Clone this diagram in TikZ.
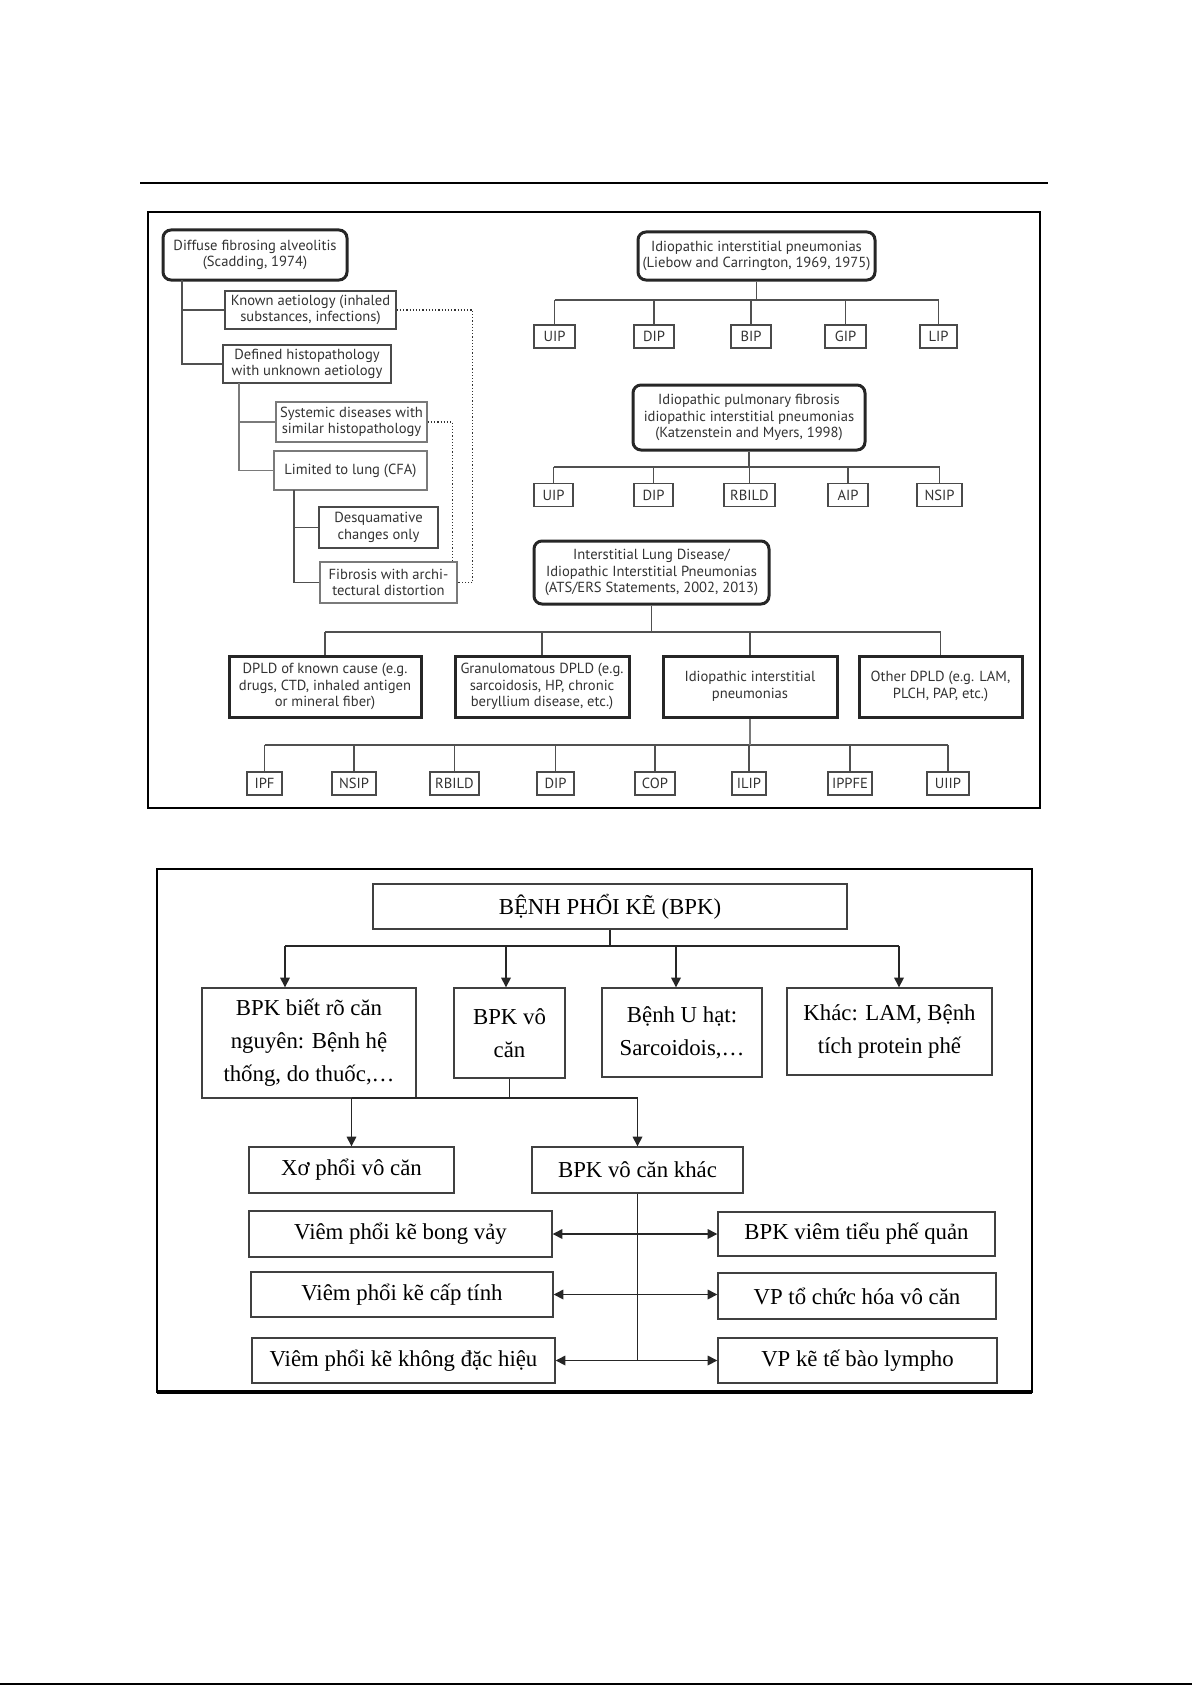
\documentclass[tikz,border=0pt]{standalone}
\usepackage{fontspec}
\setmainfont{Liberation Serif}
\newfontfamily\figfont{PT Sans}
\usetikzlibrary{arrows.meta}
\definecolor{inkgray}{HTML}{333333}
\definecolor{linegray}{HTML}{505050}
\definecolor{boxgray}{HTML}{4A4A4A}
\definecolor{softgray}{HTML}{7A7A7A}

\tikzset{
  figtext/.style={font=\figfont\fontsize{7.3}{8.3}\selectfont, text=inkgray, align=center, inner sep=1pt},
  roundbox/.style={figtext, draw=black!85, line width=1.5pt, rounded corners=4pt},
  catbox/.style={figtext, draw=black!85, line width=1.5pt},
  subbox/.style={figtext, draw=boxgray, line width=0.7pt},
  paleboxx/.style={figtext, draw=softgray, line width=0.7pt},
  leafbox/.style={figtext, draw=boxgray, line width=0.7pt},
  tree/.style={linegray, line width=0.8pt},
  paletree/.style={softgray, line width=0.8pt},
  dotline/.style={black!80, line width=0.6pt, densely dotted},
  vnbox/.style={draw=black!75, line width=0.7pt, align=center, font=\fontsize{11.4}{16.5}\selectfont, inner sep=1pt},
  vnline/.style={black!85, line width=0.7pt},
  vnarrow/.style={vnline, -{Triangle[length=4.8pt,width=4.8pt]}},
  vndouble/.style={vnline, {Triangle[length=4.8pt,width=4.8pt]}-{Triangle[length=4.8pt,width=4.8pt]}},
}

\begin{document}
\begin{tikzpicture}[x=0.5pt, y=-0.5pt]
  \useasboundingbox (0,0) rectangle (1192,1685);
  \fill[white] (0,0) rectangle (1192,1685);

  % page rules
  \draw[black, line width=1pt] (140,183) -- (1048,183);
  \draw[black, line width=1pt] (0,1684) -- (1192,1684);

  % === TOP FIGURE ===
  \draw[black, line width=1pt] (148,212) rectangle (1040,808);

  % Scadding tree
  \node[roundbox, minimum width=92pt, minimum height=25pt] (diffuse) at (255,255)
    {Diffuse fibrosing alveolitis\\(Scadding, 1974)};
  \node[subbox, minimum width=85.5pt, minimum height=19pt] (known) at (310.5,310)
    {Known aetiology (inhaled\\substances, infections)};
  \node[subbox, minimum width=84pt, minimum height=19pt] (defined) at (307,364)
    {Defined histopathology\\with unknown aetiology};
  \node[paleboxx, minimum width=75.5pt, minimum height=20pt] (systemic) at (351.5,422)
    {Systemic diseases with\\similar histopathology};
  \node[paleboxx, minimum width=76.5pt, minimum height=19.5pt] (limited) at (350.5,470.5)
    {Limited to lung (CFA)};
  \node[subbox, minimum width=59.5pt, minimum height=20.5pt] (desq) at (378.5,527.5)
    {Desquamative\\changes only};
  \node[paleboxx, minimum width=68.5pt, minimum height=20.5pt] (fibrosis) at (388.5,582.5)
    {Fibrosis with archi-\\tectural distortion};

  \coordinate (trunkA) at (182,280);
  \coordinate (trunkB) at (239,383);
  \coordinate (trunkC) at (294,490);
  \draw[tree] (trunkA) |- (known.west);
  \draw[tree] (trunkA) |- (defined.west);
  \draw[paletree] (trunkB) |- (systemic.west);
  \draw[paletree] (trunkB) |- (limited.west);
  \draw[tree] (trunkC) |- (desq.west);
  \draw[tree] (trunkC) |- (fibrosis.west);
  \draw[dotline] (known.east) -- ++(76,0) |- (fibrosis.east);
  \draw[dotline] (systemic.east) -| ([xshift=-2.5pt]fibrosis.north east);

  % Liebow and Carrington
  \node[roundbox, minimum width=118.5pt, minimum height=24pt] (liebow) at (756.5,256)
    {Idiopathic interstitial pneumonias\\(Liebow and Carrington, 1969, 1975)};
  \coordinate (busA) at (0,300);
  \foreach \nm/\cx/\bw/\lbl in {uipA/554.5/20.5/UIP, dipA/654/20/DIP, bipA/751/20/BIP,
      gipA/845.5/20.5/GIP, lipA/938.5/18.5/LIP} {
    \node[leafbox, minimum width=\bw pt, minimum height=11.5pt] (\nm) at (\cx,336.5) {\lbl};
    \draw[tree] (\nm.north) -- (\nm.north |- busA);
  }
  \draw[tree] (uipA.north |- busA) -- (lipA.north |- busA);
  \draw[tree] (liebow.south) -- (liebow.south |- busA);

  % Katzenstein and Myers
  \node[roundbox, minimum width=116pt, minimum height=32.5pt] (katz) at (749,417.5)
    {Idiopathic pulmonary fibrosis\\idiopathic interstitial pneumonias\\(Katzenstein and Myers, 1998)};
  \coordinate (busB) at (0,467);
  \foreach \nm/\cx/\bw/\lbl in {uipB/553.5/19.5/UIP, dipB/653.5/19.5/DIP, rbildB/749.5/25.5/RBILD,
      aipB/848/20/AIP, nsipB/939.5/22.5/NSIP} {
    \node[leafbox, minimum width=\bw pt, minimum height=11.5pt] (\nm) at (\cx,495) {\lbl};
    \draw[tree] (\nm.north) -- (\nm.north |- busB);
  }
  \draw[tree] (uipB.north |- busB) -- (nsipB.north |- busB);
  \draw[tree] (katz.south) -- (katz.south |- busB);

  % ATS/ERS statements
  \node[roundbox, minimum width=117.5pt, minimum height=31.5pt] (atsers) at (651.5,572.5)
    {Interstitial Lung Disease/\\Idiopathic Interstitial Pneumonias\\(ATS/ERS Statements, 2002, 2013)};
  \coordinate (busC) at (0,632);
  \node[catbox, minimum width=96pt, minimum height=30.5pt] (cknown) at (325,686.5)
    {DPLD of known cause (e.g.\\drugs, CTD, inhaled antigen\\or mineral fiber)};
  \node[catbox, minimum width=87pt, minimum height=30.5pt] (cgran) at (542,686.5)
    {Granulomatous DPLD (e.g.\\sarcoidosis, HP, chronic\\beryllium disease, etc.)};
  \node[catbox, minimum width=87pt, minimum height=30.5pt] (ciip) at (750,686.5)
    {Idiopathic interstitial\\pneumonias};
  \node[catbox, minimum width=81.5pt, minimum height=30.5pt] (cother) at (940.5,686.5)
    {Other DPLD (e.g. LAM,\\PLCH, PAP, etc.)};
  \draw[tree] (atsers.south) -- (atsers.south |- busC);
  \draw[tree] (cknown.north |- busC) -- (cother.north |- busC);
  \foreach \nm in {cknown, cgran, ciip, cother}
    \draw[tree] (\nm.north) -- (\nm.north |- busC);

  \coordinate (busD) at (0,745);
  \foreach \nm/\cx/\bw/\lbl in {ipfD/264.5/17.5/IPF, nsipD/354/22/NSIP, rbildD/454.5/24.5/RBILD,
      dipD/555.5/18.5/DIP, copD/655/20/COP, ilipD/749/17/ILIP, ippfeD/850/22/IPPFE,
      uiipD/948/21/UIIP} {
    \node[leafbox, minimum width=\bw pt, minimum height=11.5pt] (\nm) at (\cx,783.5) {\lbl};
    \draw[tree] (\nm.north) -- (\nm.north |- busD);
  }
  \draw[tree] (ipfD.north |- busD) -- (uiipD.north |- busD);
  \draw[paletree] (ciip.south) -- (ciip.south |- busD);

  % === BOTTOM FIGURE ===
  \draw[black, line width=0.8pt] (157,869) rectangle (1032,1392);
  \draw[black, line width=1.6pt] (157,1392) -- (1032,1392);

  \node[vnbox, minimum width=237pt, minimum height=22.5pt] (bpk) at (610,906.5)
    {BỆNH PHỔI KẼ (BPK)};
  \node[vnbox, minimum width=107pt, minimum height=55pt] (known2) at (309,1043)
    {BPK biết rõ căn\\nguyên: Bệnh hệ\\thống, do thuốc,…};
  \node[vnbox, minimum width=55.5pt, minimum height=45pt] (idio) at (509.5,1033)
    {BPK vô\\căn};
  \node[vnbox, minimum width=80pt, minimum height=44.5pt] (granu) at (682,1032.5)
    {Bệnh U hạt:\\Sarcoidois,…};
  \node[vnbox, minimum width=102.5pt, minimum height=43.5pt] (other2) at (889.5,1031.5)
    {Khác: LAM, Bệnh\\tích protein phế};

  \coordinate (busT) at (0,946);
  \coordinate (t1) at (285,946);
  \coordinate (t2) at (506,946);
  \coordinate (t3) at (676,946);
  \coordinate (t4) at (899,946);
  \draw[vnline] (bpk.south) -- (bpk.south |- busT);
  \draw[vnline] (t1) -- (t4);
  \draw[vnarrow] (t1) -- (t1 |- known2.north);
  \draw[vnarrow] (t2) -- (t2 |- idio.north);
  \draw[vnarrow] (t3) -- (t3 |- granu.north);
  \draw[vnarrow] (t4) -- (t4 |- other2.north);

  \node[vnbox, minimum width=102.5pt, minimum height=23pt] (ipf) at (351.5,1170)
    {Xơ phổi vô căn};
  \node[vnbox, minimum width=105.5pt, minimum height=23pt] (otheriip) at (637.5,1170)
    {BPK vô căn khác};
  \coordinate (busM) at (0,1098);
  \draw[vnline] (idio.south) -- (idio.south |- busM);
  \draw[vnline] (ipf.north |- busM) -- (otheriip.north |- busM);
  \draw[vnarrow] (ipf.north |- busM) -- (ipf.north);
  \draw[vnarrow] (otheriip.north |- busM) -- (otheriip.north);

  \node[vnbox, minimum width=151.5pt, minimum height=23pt] (dip) at (400.5,1234)
    {Viêm phổi kẽ bong vảy};
  \node[vnbox, minimum width=151pt, minimum height=22.5pt] (aip) at (402,1294.5)
    {Viêm phổi kẽ cấp tính};
  \node[vnbox, minimum width=151.5pt, minimum height=22.5pt] (nsip) at (403.5,1360.5)
    {Viêm phổi kẽ không đặc hiệu};
  \node[vnbox, minimum width=138.5pt, minimum height=22pt] (rbild) at (856.5,1234)
    {BPK viêm tiểu phế quản};
  \node[vnbox, minimum width=139pt, minimum height=23pt] (cop) at (857,1296)
    {VP tổ chức hóa vô căn};
  \node[vnbox, minimum width=139.5pt, minimum height=22.5pt] (lip) at (857.5,1360.5)
    {VP kẽ tế bào lympho};

  \draw[vnline] (otheriip.south) -- (otheriip.south |- nsip.east);
  \draw[vndouble] (dip.east) -- (dip.east -| rbild.west);
  \draw[vndouble] (aip.east) -- (aip.east -| cop.west);
  \draw[vndouble] (nsip.east) -- (nsip.east -| lip.west);
\end{tikzpicture}
\end{document}
